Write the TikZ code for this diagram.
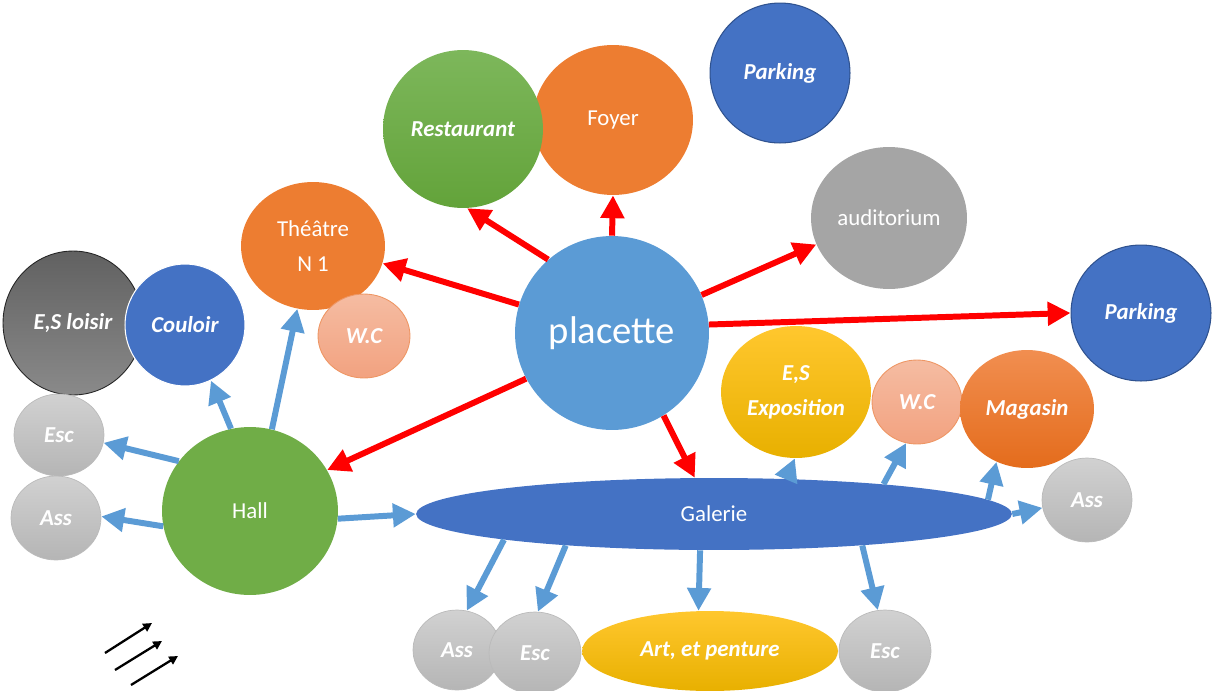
\documentclass[tikz,border=0pt]{standalone}
\usepackage{fontspec}
\setmainfont{Carlito}
\usetikzlibrary{shapes.geometric,arrows.meta}
\definecolor{cblue}{HTML}{4472C4}
\definecolor{cblueb}{HTML}{2F528F}
\definecolor{clight}{HTML}{5B9BD5}
\definecolor{corange}{HTML}{ED7D31}
\definecolor{cgreen}{HTML}{70AD47}
\definecolor{cgray}{HTML}{A5A5A5}
\definecolor{arrred}{HTML}{FF0000}
\definecolor{arrblue}{HTML}{5B9BD5}
\begin{document}
\begin{tikzpicture}[x=0.02cm,y=-0.02cm,
  bub/.style n args={2}{ellipse, minimum width={#1*0.04cm}, minimum height={#2*0.04cm},
    inner sep=0pt, text=white, align=center, font=\fontsize{13}{20}\selectfont},
  bi/.style={font=\fontsize{13}{20}\selectfont\bfseries\itshape},
  lgray/.style={top color=black!18, bottom color=black!29, draw=black!27, line width=0.4pt},
  gold/.style={top color={rgb,255:red,255;green,199;blue,46}, bottom color={rgb,255:red,232;green,176;blue,0}},
  salmon/.style={top color={rgb,255:red,245;green,188;blue,162}, bottom color={rgb,255:red,242;green,162;blue,128}, draw={rgb,255:red,238;green,150;blue,100}, line width=0.5pt},
  redarr/.style={draw=arrred, line width=3.4pt, -{Triangle[length=13pt,width=13pt]}},
  bluearr/.style={draw=arrblue, line width=3.4pt, -{Triangle[length=13pt,width=13pt]}},
  blackarr/.style={draw=black, line width=1.3pt, -{Triangle[length=5pt,width=5pt]}}
]
\useasboundingbox (0,0) rectangle (1213,690);

% top cluster
\node[bub={80}{75}, fill=corange] (foyer) at (613,120) {Foyer};
\node[bub={80}{79}, bi, top color={rgb,255:red,125;green,183;blue,91}, bottom color={rgb,255:red,99;green,163;blue,58}] (rest) at (463,129) {Restaurant};
\node[bub={70}{70}, bi, fill=cblue, draw=cblueb, line width=0.6pt] (park1) at (780,73) {Parking};
\node[bub={78}{71}, fill=cgray] (audi) at (889,218) {auditorium};
\node[bub={70}{68}, bi, fill=cblue, draw=cblueb, line width=0.6pt] (park2) at (1141,313) {Parking};
\node[bub={97}{97}, fill=clight, font=\fontsize{22}{26}\selectfont] (plac) at (612,333) {placette};
\node[bub={72}{64}, fill=corange] (theatre) at (313,246) {Théâtre\\N 1};
\node[bub={46}{42}, bi, salmon] (wcA) at (364,336) {W.C};

% left cluster
\node[bub={70}{72}, bi, top color=black!62, bottom color=black!46, draw=black!85, line width=0.5pt] (esl) at (73,323) {E,S loisir};
\node[bub={60}{61}, bi, fill=cblue, draw=white, line width=0.6pt] (coul) at (185,325) {Couloir};
\node[bub={45}{41}, bi, lgray] (escL) at (59,435) {Esc};
\node[bub={45}{42}, bi, lgray] (assL) at (56,518) {Ass};
\node[bub={88}{84}, fill=cgreen] (hall) at (250,511) {Hall};

% galerie cluster
\node[bub={298}{36}, fill=cblue] (gal) at (714,514) {Galerie};
\node[bub={75}{66}, bi, gold] (expo) at (796,392) {E,S\\Exposition};
\node[bub={45}{42}, bi, salmon] (wcB) at (917,402) {W.C};
\node[bub={67}{59}, bi, top color={rgb,255:red,241;green,142;blue,80}, bottom color={rgb,255:red,228;green,108;blue,28}] (mag) at (1027,409) {Magasin};
\node[bub={45}{42}, bi, lgray] (assR) at (1087,500) {Ass};
\node[bub={44}{40}, bi, lgray] (assB) at (457,650) {Ass};
\node[bub={46}{41}, bi, lgray] (escB) at (535,653) {Esc};
\node[bub={128}{40}, bi, gold] (art) at (710,651) {Art, et penture};
\node[bub={46}{41}, bi, lgray] (escR) at (885,651) {Esc};

% red arrows from placette
\draw[redarr] (plac.131) -- (rest.-87);
\draw[redarr] (plac.90) -- (foyer.-90);
\draw[redarr] (plac.163) -- (theatre.-14);
\draw[redarr] (plac.23) -- (audi.-160);
\draw[redarr] (plac.5) -- (park2.180);
\draw[redarr] (plac.-152) -- (hall.28);
\draw[redarr] (plac.-58) -- (gal.118);

% blue arrows from hall
\draw[bluearr] (hall.103) -- (coul.-65);
\draw[bluearr] (hall.75) -- (theatre.-104);
\draw[bluearr] (hall.145) -- (escL.-10);
\draw[bluearr] (hall.-170) -- (assL.2);
\draw[bluearr] (hall.-5) -- (gal.180);

% blue arrows from galerie
\draw[bluearr] (gal.-173.5) -- (assB.76);
\draw[bluearr] (gal.-168) -- (escB.86);
\draw[bluearr] (gal.-111) -- (art.106);
\draw[bluearr] (gal.-12) -- (escR.100);
\draw[bluearr] (gal.26) -- (expo.-91);
\draw[bluearr] (gal.10) -- (wcB.-105);
\draw[bluearr] (gal.3.7) -- (mag.-120);
\draw[bluearr] (gal.0) -- (assR.-170);

% small black arrows
\coordinate (k1s) at (105,653); \coordinate (k1e) at (152,623);
\coordinate (k2s) at (115,670); \coordinate (k2e) at (162,641);
\coordinate (k3s) at (131,685); \coordinate (k3e) at (178,656);
\draw[blackarr] (k1s) -- (k1e);
\draw[blackarr] (k2s) -- (k2e);
\draw[blackarr] (k3s) -- (k3e);
\end{tikzpicture}
\end{document}
